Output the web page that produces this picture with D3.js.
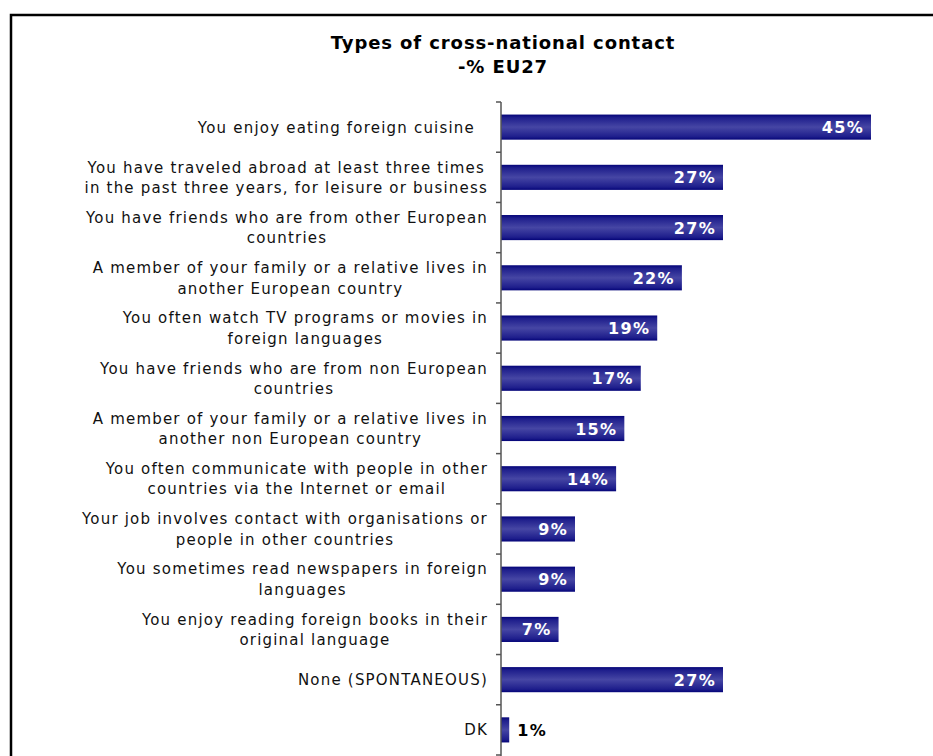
<!DOCTYPE html>
<html>
<head>
<meta charset="utf-8">
<script src="https://cdn.jsdelivr.net/npm/d3@7/dist/d3.min.js"></script>
<style>
  html, body { margin: 0; padding: 0; background: #fff; }
  svg { display: block; }
  text { font-family: "DejaVu Sans", Verdana, sans-serif; }
</style>
</head>
<body>
<svg id="chart" width="933" height="756"></svg>
<script>
const titleLines = ["Types of cross-national contact", "-% EU27"];

const categories = [
  "You enjoy eating foreign cuisine",
  "You have traveled abroad at least three times\nin the past three years, for leisure or business",
  "You have friends who are from other European\ncountries",
  "A member of your family or a relative lives in\nanother European country",
  "You often watch TV programs or movies in\nforeign languages",
  "You have friends who are from non European\ncountries",
  "A member of your family or a relative lives in\nanother non European country",
  "You often communicate with people in other\ncountries via the Internet or email",
  "Your job involves contact with organisations or\npeople in other countries",
  "You sometimes read newspapers in foreign\nlanguages",
  "You enjoy reading foreign books in their\noriginal language",
  "None (SPONTANEOUS)",
  "DK"
];

const values = [45, 27, 27, 22, 19, 17, 15, 14, 9, 9, 7, 27, 1];

const svg = d3.select("#chart");

// gradient
const defs = svg.append("defs");
const grad = defs.append("linearGradient")
  .attr("id", "barGrad").attr("x1", 0).attr("y1", 0).attr("x2", 0).attr("y2", 1);
[[0, "#040478"], [0.12, "#1e1e8c"], [0.5, "#4646a4"], [0.88, "#1e1e8c"], [1, "#040478"]]
  .forEach(([o, c]) => grad.append("stop").attr("offset", o).attr("stop-color", c));

// frame
svg.append("rect")
  .attr("x", 11).attr("y", 15).attr("width", 1000).attr("height", 1000)
  .attr("fill", "none").attr("stroke", "#000").attr("stroke-width", 2.5);

// title
svg.append("g").selectAll("text").data(titleLines).join("text")
  .attr("x", 503).attr("y", (d, i) => 49 + i * 24)
  .attr("text-anchor", "middle")
  .attr("font-size", 18).attr("font-weight", "bold").attr("fill", "#000")
  .style("letter-spacing", "0.9px")
  .text(d => d);

const y = d3.scaleBand()
  .domain(categories)
  .range([102, 755])
  .paddingInner(0.5)
  .paddingOuter(0.25);

const x = d3.scaleLinear().domain([0, 45]).range([501, 871]);

// bars
svg.append("g").selectAll("rect").data(values).join("rect")
  .attr("x", x(0))
  .attr("y", (d, i) => y(categories[i]))
  .attr("width", d => x(d) - x(0))
  .attr("height", y.bandwidth())
  .attr("fill", "url(#barGrad)");

// axis
const step = y.step();
const axisG = svg.append("g").attr("transform", `translate(${x(0)},0)`);
axisG.append("line")
  .attr("x1", 0).attr("x2", 0).attr("y1", 102).attr("y2", 756)
  .attr("stroke", "#555").attr("stroke-width", 1.5);
axisG.selectAll("line.tick").data(d3.range(categories.length + 1)).join("line")
  .attr("class", "tick")
  .attr("x1", -5).attr("x2", 0)
  .attr("y1", i => 102 + i * step).attr("y2", i => 102 + i * step)
  .attr("stroke", "#555").attr("stroke-width", 1.5);

// category labels: block right-aligned, lines centred within block
const labG = svg.append("g");
categories.forEach((c, i) => {
  const lines = c.split("\n");
  const cy = y(c) + y.bandwidth() / 2;
  const lh = 20.5;
  const right = i === 0 ? 475 : 488;
  const t = labG.append("text")
    .attr("font-size", 15)
    .attr("fill", "#111")
    .style("letter-spacing", "1.2px");
  const spans = lines.map((ln, j) => t.append("tspan")
      .attr("y", cy + 5.5 + (j - (lines.length - 1) / 2) * lh)
      .text(ln));
  const widths = spans.map(s => s.node().getComputedTextLength());
  const w = d3.max(widths);
  const center = right - w / 2;
  spans.forEach(s => s.attr("x", center).attr("text-anchor", "middle"));
});

// value labels
svg.append("g").selectAll("text").data(values).join("text")
  .attr("font-size", 16).attr("font-weight", "bold")
  .style("letter-spacing", "1.3px")
  .attr("y", (d, i) => y(categories[i]) + y.bandwidth() / 2 + 6)
  .attr("x", d => d >= 4 ? x(d) - 7 : x(d) + 8)
  .attr("text-anchor", d => d >= 4 ? "end" : "start")
  .attr("fill", d => d >= 4 ? "#fff" : "#000")
  .text(d => d + "%");
</script>
</body>
</html>
